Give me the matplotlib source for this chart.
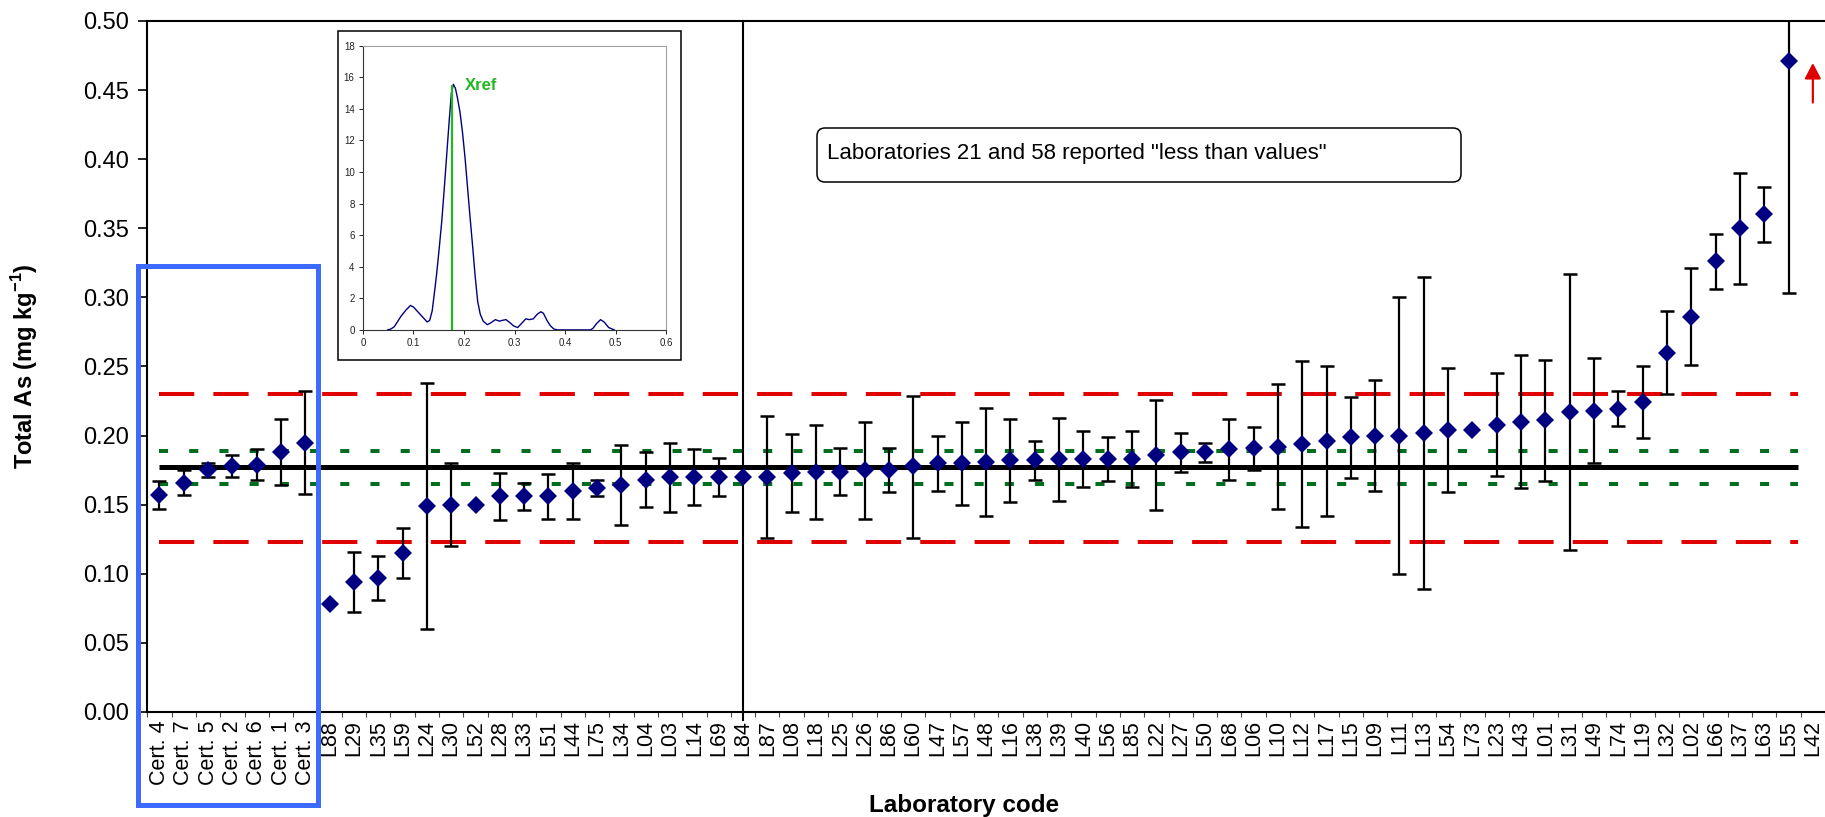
import numpy as np
import matplotlib
matplotlib.use("Agg")
import matplotlib.pyplot as plt
from matplotlib.patches import Rectangle, FancyBboxPatch
from matplotlib.ticker import FormatStrFormatter

plt.rcParams['font.family'] = ['Liberation Sans', 'DejaVu Sans']
plt.rcParams['mathtext.fontset'] = 'custom'
plt.rcParams['mathtext.rm'] = 'Liberation Sans'
plt.rcParams['mathtext.bf'] = 'Liberation Sans:bold'

# laboratory results, sorted
labels = ['Cert. 4', 'Cert. 7', 'Cert. 5', 'Cert. 2', 'Cert. 6', 'Cert. 1', 'Cert. 3',
          'L88', 'L29', 'L35', 'L59', 'L24', 'L30', 'L52', 'L28', 'L33', 'L51', 'L44',
          'L75', 'L34', 'L04', 'L03', 'L14', 'L69', 'L84', 'L87', 'L08', 'L18', 'L25',
          'L26', 'L86', 'L60', 'L47', 'L57', 'L48', 'L16', 'L38', 'L39', 'L40', 'L56',
          'L85', 'L22', 'L27', 'L50', 'L68', 'L06', 'L10', 'L12', 'L17', 'L15', 'L09',
          'L11', 'L13', 'L54', 'L73', 'L23', 'L43', 'L01', 'L31', 'L49', 'L74', 'L19',
          'L32', 'L02', 'L66', 'L37', 'L63', 'L55', 'L42']
values = [0.157, 0.166, 0.175, 0.178, 0.179, 0.188, 0.195,
          0.078, 0.094, 0.097, 0.115, 0.149, 0.150, 0.150, 0.156, 0.156, 0.156, 0.160,
          0.162, 0.164, 0.168, 0.170, 0.170, 0.170, 0.170, 0.170, 0.173, 0.174, 0.174,
          0.175, 0.175, 0.178, 0.180, 0.180, 0.181, 0.182, 0.182, 0.183, 0.183, 0.183,
          0.183, 0.186, 0.188, 0.188, 0.190, 0.191, 0.192, 0.194, 0.196, 0.199, 0.200,
          0.200, 0.202, 0.204, 0.204, 0.208, 0.210, 0.211, 0.217, 0.218, 0.219, 0.224,
          0.260, 0.286, 0.326, 0.350, 0.360, 0.471, np.nan]
lower = [0.147, 0.157, 0.170, 0.170, 0.168, 0.164, 0.158,
         np.nan, 0.072, 0.081, 0.097, 0.060, 0.120, np.nan, 0.139, 0.146, 0.140, 0.140,
         0.156, 0.135, 0.148, 0.145, 0.150, 0.156, np.nan, 0.126, 0.145, 0.140, 0.157,
         0.140, 0.159, 0.126, 0.160, 0.150, 0.142, 0.152, 0.168, 0.153, 0.163, 0.167,
         0.163, 0.146, 0.174, 0.181, 0.168, 0.175, 0.147, 0.134, 0.142, 0.169, 0.160,
         0.100, 0.089, 0.159, np.nan, 0.171, 0.162, 0.167, 0.117, 0.180, 0.207, 0.198,
         0.230, 0.251, 0.306, 0.310, 0.340, 0.303, np.nan]
upper = [0.167, 0.175, 0.180, 0.186, 0.190, 0.212, 0.232,
         np.nan, 0.116, 0.113, 0.133, 0.238, 0.180, np.nan, 0.173, 0.166, 0.172, 0.180,
         0.168, 0.193, 0.188, 0.195, 0.190, 0.184, np.nan, 0.214, 0.201, 0.208, 0.191,
         0.210, 0.191, 0.229, 0.200, 0.210, 0.220, 0.212, 0.196, 0.213, 0.203, 0.199,
         0.203, 0.226, 0.202, 0.195, 0.212, 0.206, 0.237, 0.254, 0.250, 0.228, 0.240,
         0.300, 0.315, 0.249, np.nan, 0.245, 0.258, 0.255, 0.317, 0.256, 0.232, 0.250,
         0.290, 0.321, 0.346, 0.390, 0.380, 0.639, np.nan]

x_ref = 0.177
green_lines = [0.189, 0.165]
red_lines = [0.230, 0.123]
divider_lab = 'L84'
arrow_lab = 'L42'
arrow_from, arrow_to = 0.441, 0.4696

# kernel density inset
kde_x = [0.049, 0.055, 0.062, 0.068, 0.075, 0.085, 0.094, 0.100, 0.110, 0.120, 0.127,
         0.132, 0.137, 0.142, 0.146, 0.151, 0.156, 0.161, 0.166, 0.171, 0.175, 0.179,
         0.183, 0.187, 0.192, 0.197, 0.202, 0.207, 0.212, 0.217, 0.222, 0.227, 0.232,
         0.238, 0.246, 0.253, 0.262, 0.270, 0.275, 0.283, 0.291, 0.298, 0.306, 0.315,
         0.322, 0.329, 0.337, 0.345, 0.352, 0.357, 0.364, 0.371, 0.378, 0.385, 0.450,
         0.455, 0.462, 0.470, 0.477, 0.486, 0.497]
kde_y = [0, 0.05, 0.2, 0.5, 0.85, 1.25, 1.55, 1.45, 1.1, 0.75, 0.5,
         0.6, 1.2, 2.5, 3.6, 5.2, 6.9, 9.0, 11.2, 13.4, 15.0, 15.56,
         15.3, 14.7, 13.8, 12.5, 10.9, 9.0, 7.1, 5.3, 3.4, 1.8, 1.0,
         0.55, 0.33, 0.45, 0.65, 0.55, 0.6, 0.65, 0.45, 0.25, 0.15, 0.45,
         0.7, 0.65, 0.7, 1.0, 1.15, 1.05, 0.6, 0.25, 0.05, 0, 0,
         0.1, 0.4, 0.65, 0.5, 0.15, 0]
kde_xref, kde_peak = 0.176, 15.5

vals = np.array(values)
lo = np.array(lower)
hi = np.array(upper)
x = np.arange(len(labels))

fig = plt.figure(figsize=(18.25, 8.17), dpi=100)
ax = fig.add_axes([0.08071, 0.12852, 0.91929, 0.84578])
ax.set_xlim(-0.5, len(labels) - 0.5)
ax.set_ylim(0, 0.5)

# reference lines run up to the last reported result
xend = len(labels) - 1.6
ax.plot([0, xend], [x_ref, x_ref], color='black', lw=3.6, solid_capstyle='butt', zorder=2)
for v in green_lines:
    ax.plot([0, xend], [v, v], color='#006E1E', lw=2.9, dashes=(2.25, 5.25),
            dash_capstyle='butt', zorder=2)
for v in red_lines:
    ax.plot([0, xend], [v, v], color='#E00000', lw=2.9, dashes=(8.75, 4.75),
            dash_capstyle='butt', zorder=2)

m = ~np.isnan(lo)
ax.errorbar(x[m], vals[m], yerr=[vals[m] - lo[m], hi[m] - vals[m]], fmt='none',
            ecolor='black', elinewidth=1.6, capsize=5.3, capthick=1.8, zorder=3)
ax.plot(x, vals, 'D', color='#000080', ms=9.2, mew=0, zorder=4)

ax.axvline(labels.index(divider_lab), ymin=-0.012, ymax=1, color='black', lw=1.5,
           clip_on=False, zorder=3)

xa = labels.index(arrow_lab)
ax.annotate('', xy=(xa, arrow_to), xytext=(xa, arrow_from),
            arrowprops=dict(arrowstyle='-|>,head_length=0.4,head_width=0.21',
                            mutation_scale=23.5, color='#E00000', lw=1.6,
                            shrinkA=0, shrinkB=0))

for s in ['left', 'bottom', 'top']:
    ax.spines[s].set_linewidth(1.5)
ax.spines['right'].set_visible(False)

ax.set_yticks(np.arange(0, 0.501, 0.05))
ax.yaxis.set_major_formatter(FormatStrFormatter('%.2f'))
ax.tick_params(axis='y', direction='out', length=6.5, width=1.2, labelsize=17, pad=7)
ax.set_xticks(x)
ax.set_xticklabels(labels, rotation=90, fontsize=15.5)
ax.set_xticks(np.arange(-0.5, len(labels)), minor=True)
ax.tick_params(axis='x', which='major', length=0, pad=6)
ax.tick_params(axis='x', which='minor', direction='out', length=3.6, width=0.8,
               color='#444444')

ax.set_ylabel(r'Total As (mg kg$^{\mathbf{-1}}$)', fontsize=17, fontweight='bold')
ax.yaxis.set_label_coords(-0.064, 0.5)
ax.set_xlabel('Laboratory code', fontsize=17.5, fontweight='bold')
ax.xaxis.set_label_coords(0.4868, -0.118)

# inset with the density curve
frame = Rectangle((0.18499, 0.55973), 0.18816, 0.40184, transform=fig.transFigure,
                  facecolor='white', edgecolor='black', lw=1.1, zorder=5)
fig.add_artist(frame)
ins = fig.add_axes([0.19885, 0.59621, 0.16625, 0.34774], zorder=6)
ins.plot(kde_x, kde_y, color='#000080', lw=1.0)
ins.vlines(kde_xref, 0, kde_peak, color='#22B822', lw=1.6)
ins.text(kde_xref + 0.026, kde_peak, 'Xref', color='#22B822', fontsize=12,
         fontweight='bold', va='center')
ins.set_xlim(0, 0.6)
ins.set_ylim(0, 18)
ins.set_xticks(np.arange(0, 0.61, 0.1))
ins.set_xticklabels(['0', '0.1', '0.2', '0.3', '0.4', '0.5', '0.6'])
ins.set_yticks(np.arange(0, 19, 2))
ins.tick_params(labelsize=7, length=3, width=0.6, pad=3, labelcolor='#222222')
ins.spines['left'].set_color('#333333')
ins.spines['bottom'].set_color('#333333')
ins.spines['top'].set_color('#A0A0A0')
ins.spines['right'].set_color('#A0A0A0')
for s in ins.spines.values():
    s.set_linewidth(0.8)

# note box
box = FancyBboxPatch((0.44767, 0.77723), 0.35288, 0.06610,
                     boxstyle='round,pad=0,rounding_size=0.0044',
                     mutation_aspect=1825 / 817, transform=fig.transFigure,
                     facecolor='white', edgecolor='black', lw=1.1, zorder=5)
fig.add_artist(box)
fig.text(0.45315, 0.80539, 'Laboratories 21 and 58 reported "less than values"',
         fontsize=16, va='baseline', zorder=6)

# blue frame round the certified values
blue = Rectangle((0.07544, 0.01408), 0.09908, 0.66095, transform=fig.transFigure,
                 fill=False, edgecolor='#3D6BFF', lw=3.6, zorder=7)
fig.add_artist(blue)

fig.savefig('out.png', dpi=100)
